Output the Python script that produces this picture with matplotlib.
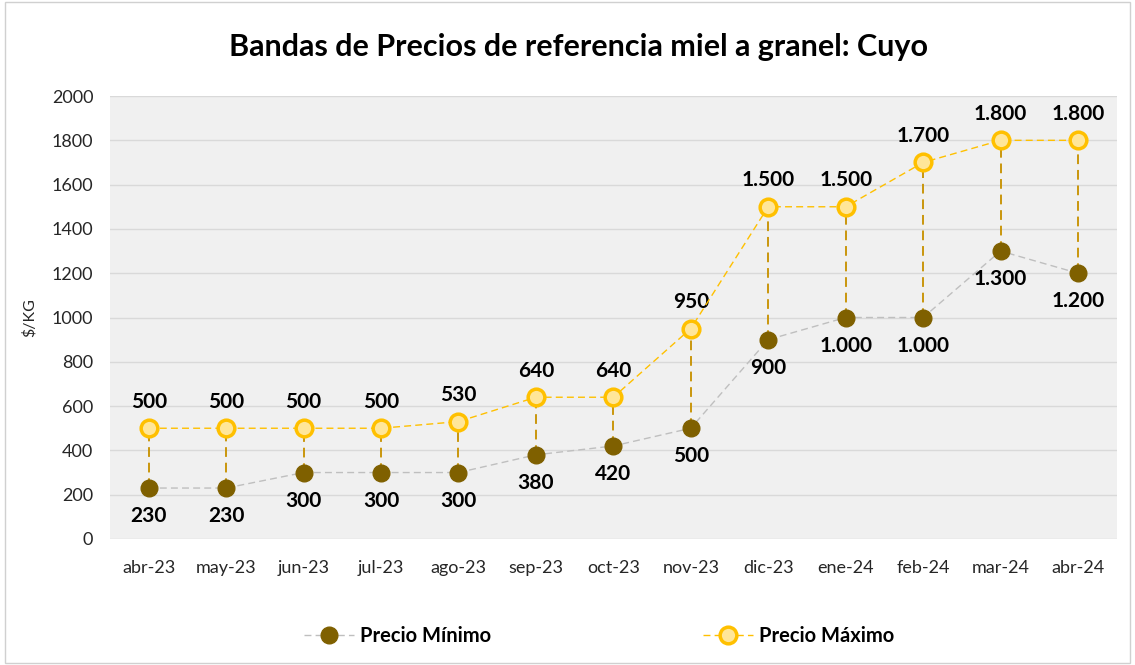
import matplotlib
matplotlib.use("Agg")
import matplotlib.pyplot as plt
from matplotlib.lines import Line2D
from matplotlib.patches import Rectangle

months = ["abr-23", "may-23", "jun-23", "jul-23", "ago-23", "sep-23", "oct-23",
          "nov-23", "dic-23", "ene-24", "feb-24", "mar-24", "abr-24"]
precio_min = [230, 230, 300, 300, 300, 380, 420, 500, 900, 1000, 1000, 1300, 1200]
precio_max = [500, 500, 500, 500, 530, 640, 640, 950, 1500, 1500, 1700, 1800, 1800]

def fmt(v):
    return f"{v:,}".replace(",", ".")

plt.rcParams['font.family'] = ['Lato', 'DejaVu Sans']

fig = plt.figure(figsize=(11.35, 6.65), dpi=100)
fig.patch.set_facecolor("white")
fig.patches.append(Rectangle((0.004, 0.003), 0.992, 0.994, transform=fig.transFigure,
                             fill=False, edgecolor="#D0D0D0", linewidth=1.0))

ax = fig.add_axes([0.0969, 0.1895, 0.887, 0.6661])
ax.set_facecolor("#F0F0F0")
x = list(range(len(months)))

ax.set_ylim(0, 2000)
ax.set_xlim(-0.5, len(months) - 0.5)
ax.set_yticks(range(0, 2001, 200))
ax.grid(axis="y", color="#D9D9D9", linewidth=1.0)
ax.set_axisbelow(True)
for s in ax.spines.values():
    s.set_visible(False)
ax.tick_params(axis="both", length=0, labelsize=13, colors="#262626")
ax.tick_params(axis="y", pad=12)
ax.tick_params(axis="x", pad=15)
ax.set_xticks(x)
ax.set_xticklabels(months)

# high-low lines
ax.vlines(x, precio_min, precio_max, colors="#C9960C", linestyles=(0, (5, 3)), linewidth=1.4, zorder=2)

ax.plot(x, precio_min, color="#BFBFBF", linestyle=(0, (5, 3)), linewidth=1.0,
        marker="o", markersize=12, markerfacecolor="#7F6000", markeredgecolor="#7F6000", zorder=3)
ax.plot(x, precio_max, color="#FFC000", linestyle=(0, (5, 3)), linewidth=1.0,
        marker="o", markersize=12, markerfacecolor="#FFE699", markeredgecolor="#FFC000",
        markeredgewidth=2.5, zorder=4)

for xi, v in zip(x, precio_max):
    ax.annotate(fmt(v), (xi, v), xytext=(0, 12), textcoords="offset points",
                ha="center", va="bottom", fontsize=15, fontweight="bold", color="black")
for xi, v in zip(x, precio_min):
    ax.annotate(fmt(v), (xi, v), xytext=(0, -13), textcoords="offset points",
                ha="center", va="top", fontsize=15, fontweight="bold", color="black")

ax.set_ylabel("$/KG", fontsize=11.5, color="#262626", labelpad=11)

fig.text(0.51, 0.93, "Bandas de Precios de referencia miel a granel: Cuyo",
         ha="center", va="center", fontsize=22, fontweight="bold", color="black")

handles = [
    Line2D([0], [0], color="#BFBFBF", linestyle=(0, (5, 3)), linewidth=1.0, marker="o",
           markersize=12, markerfacecolor="#7F6000", markeredgecolor="#7F6000"),
    Line2D([0], [0], color="#FFC000", linestyle=(0, (5, 3)), linewidth=1.0, marker="o",
           markersize=12, markerfacecolor="#FFE699", markeredgecolor="#FFC000", markeredgewidth=2.5),
]
fig.legend(handles, ["Precio Mínimo", "Precio Máximo"], loc="center", bbox_to_anchor=(0.528, 0.044),
           ncol=2, frameon=False, columnspacing=10.5, handlelength=2.5, handletextpad=0.3,
           prop={"size": 14.5, "weight": "bold"})

fig.savefig("out.png", dpi=100)
